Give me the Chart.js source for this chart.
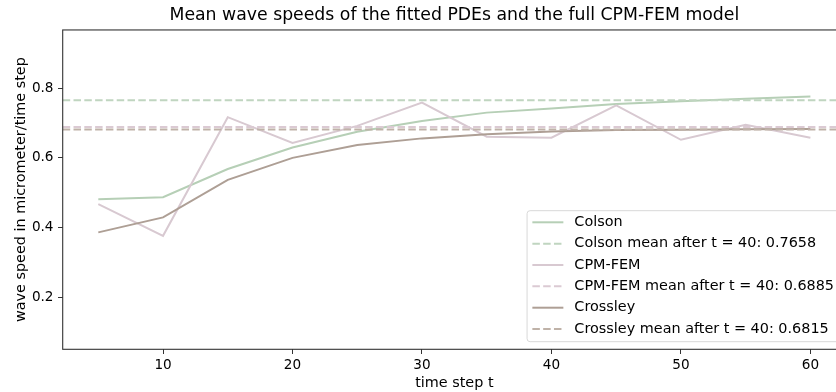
<!DOCTYPE html>
<html>
<head>
<meta charset="utf-8">
<script src="https://cdn.jsdelivr.net/npm/chart.js@4"></script>
<style>
  html, body { margin: 0; padding: 0; background: #fff; overflow: hidden; width: 836px; height: 392px; }
  canvas { display: block; }
</style>
</head>
<body>
<canvas id="speedChart" width="850" height="392"></canvas>
<script>
// data
const timeSteps = [5, 10, 15, 20, 25, 30, 35, 40, 45, 50, 55, 60];
const colsonSpeed = [0.481, 0.487, 0.568, 0.630, 0.675, 0.706, 0.730, 0.742, 0.755, 0.763, 0.770, 0.776];
const cpmFemSpeed = [0.467, 0.376, 0.717, 0.643, 0.692, 0.759, 0.661, 0.658, 0.751, 0.652, 0.695, 0.658];
const crossleySpeed = [0.386, 0.429, 0.537, 0.600, 0.637, 0.656, 0.668, 0.676, 0.680, 0.681, 0.682, 0.683];

const colsonMean = 0.7658;
const cpmFemMean = 0.6885;
const crossleyMean = 0.6815;

const xTicks = [10, 20, 30, 40, 50, 60];
const yTicks = [0.2, 0.4, 0.6, 0.8];
const xRange = [2.25, 62.75];
const yRange = [0.05, 0.9675];

const FONT = '"DejaVu Sans", sans-serif';
const LABEL_SIZE = 14.4;
const dash = [7.5, 3.3];

function points(ys) {
  return timeSteps.map((t, i) => ({ x: t, y: ys[i] }));
}

// horizontal mean line spanning the axis
function meanLine(v) {
  return [{ x: xRange[0], y: v }, { x: xRange[1], y: v }];
}

function series(label, data, color, dashed, order) {
  return {
    label: label,
    data: data,
    borderColor: color,
    backgroundColor: color,
    borderWidth: 2,
    borderDash: dashed ? dash : [],
    pointRadius: 0,
    tension: 0,
    order: order
  };
}

const datasets = [
  series('Colson', points(colsonSpeed), '#b6cfb6', false, 6),
  series('Colson mean after t = 40: ' + colsonMean.toFixed(4), meanLine(colsonMean), '#c0d5c0', true, 5),
  series('CPM-FEM', points(cpmFemSpeed), '#d8c9d1', false, 4),
  series('CPM-FEM mean after t = 40: ' + cpmFemMean.toFixed(4), meanLine(cpmFemMean), '#dbcad3', true, 3),
  series('Crossley', points(crossleySpeed), '#ae9f95', false, 2),
  series('Crossley mean after t = 40: ' + crossleyMean.toFixed(4), meanLine(crossleyMean), '#bfb2a8', true, 1)
];

// axes frame like matplotlib spines
const framePlugin = {
  id: 'frame',
  afterDatasetsDraw(chart) {
    const { ctx, chartArea: a } = chart;
    ctx.save();
    ctx.strokeStyle = '#333';
    ctx.lineWidth = 1.1;
    ctx.strokeRect(a.left, a.top, a.right - a.left, a.bottom - a.top);
    ctx.restore();
  }
};

// legend box in the lower right corner
const legendPlugin = {
  id: 'mplLegend',
  afterDraw(chart) {
    const { ctx, chartArea: a } = chart;
    const items = chart.data.datasets;
    ctx.save();
    ctx.font = LABEL_SIZE + 'px ' + FONT;
    let maxW = 0;
    items.forEach(d => { maxW = Math.max(maxW, ctx.measureText(d.label).width); });

    const pad = 5.3, handleLen = 31, textGap = 11, rowH = 21.35;
    const right = a.right - 6.7;
    const bottom = a.bottom - 7.6;
    const top = bottom - 131;
    const left = right - (pad + handleLen + textGap + maxW + pad);

    ctx.beginPath();
    ctx.roundRect(left, top, right - left, bottom - top, 3);
    ctx.fillStyle = 'rgba(255,255,255,0.8)';
    ctx.fill();
    ctx.strokeStyle = '#d8d8d8';
    ctx.lineWidth = 1;
    ctx.stroke();

    items.forEach((d, i) => {
      const y = top + 11.6 + i * rowH;
      ctx.beginPath();
      ctx.setLineDash(d.borderDash || []);
      ctx.strokeStyle = d.borderColor;
      ctx.lineWidth = d.borderWidth;
      ctx.moveTo(left + pad, y);
      ctx.lineTo(left + pad + handleLen, y);
      ctx.stroke();
      ctx.setLineDash([]);
      ctx.fillStyle = '#000';
      ctx.textBaseline = 'middle';
      ctx.textAlign = 'left';
      ctx.fillText(d.label, left + pad + handleLen + textGap, y);
    });
    ctx.restore();
  }
};

Chart.defaults.font.family = FONT;
Chart.defaults.color = '#000';

const ctx = document.getElementById('speedChart').getContext('2d');
new Chart(ctx, {
  type: 'line',
  data: { datasets: datasets },
  options: {
    responsive: false,
    animation: false,
    devicePixelRatio: 1,
    layout: { padding: { left: 0, right: 4, top: 0, bottom: 0 } },
    plugins: {
      legend: { display: false },
      tooltip: { enabled: false },
      title: {
        display: true,
        fullSize: false,
        text: 'Mean wave speeds of the fitted PDEs and the full CPM-FEM model',
        font: { size: 17.3, weight: 'normal' },
        color: '#000',
        padding: { top: 5.6, bottom: 3.6 }
      }
    },
    scales: {
      x: {
        type: 'linear',
        min: xRange[0],
        max: xRange[1],
        afterBuildTicks: s => { s.ticks = xTicks.map(v => ({ value: v })); },
        afterFit: s => { s.height = 42.7; },
        grid: { drawOnChartArea: false, drawTicks: true, tickLength: 4.7, color: '#333', lineWidth: 1 },
        border: { display: false },
        ticks: { font: { size: 13.6 }, padding: 3.5, maxRotation: 0, callback: v => String(v) },
        title: { display: true, text: 'time step t', font: { size: LABEL_SIZE }, padding: { top: 0, bottom: 0.4 } }
      },
      y: {
        min: yRange[0],
        max: yRange[1],
        afterBuildTicks: s => { s.ticks = yTicks.map(v => ({ value: v })); },
        afterFit: s => { s.width = 62.7; },
        grid: { drawOnChartArea: false, drawTicks: true, tickLength: 4.7, color: '#333', lineWidth: 1 },
        border: { display: false },
        ticks: { font: { size: 13.6 }, padding: 4.5, callback: v => v.toFixed(1) },
        title: { display: true, text: 'wave speed in micrometer/time step', font: { size: LABEL_SIZE }, padding: { top: 12.4, bottom: 0 } }
      }
    }
  },
  plugins: [framePlugin, legendPlugin]
});
</script>
</body>
</html>
